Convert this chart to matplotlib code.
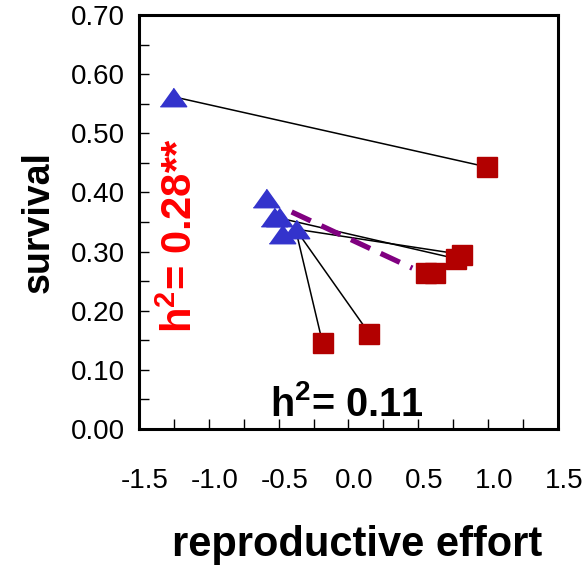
import matplotlib
matplotlib.use("Agg")
import matplotlib.pyplot as plt
from matplotlib.ticker import MultipleLocator
from matplotlib.transforms import ScaledTranslation

# parent values (triangles) and offspring values (squares)
tri_x = [-1.257, -0.593, -0.536, -0.500, -0.479, -0.379]
tri_y = [0.562, 0.391, 0.359, 0.359, 0.330, 0.338]
sq_x = [0.993, 0.557, 0.621, 0.771, 0.814, -0.186, 0.150]
sq_y = [0.443, 0.264, 0.264, 0.288, 0.295, 0.146, 0.161]

# which triangle is joined to which square
links = [(0, 0), (2, 3), (5, 4), (5, 5), (5, 6)]

# dashed mean line
mean_x = [-0.407, 0.457]
mean_y = [0.367, 0.272]

xticks = [-1.5, -1.0, -0.5, 0.0, 0.5, 1.0, 1.5]
yticks = [0.0, 0.1, 0.2, 0.3, 0.4, 0.5, 0.6, 0.7]

plt.rcParams["font.family"] = ["Liberation Sans", "DejaVu Sans"]
plt.rcParams["mathtext.fontset"] = "custom"
plt.rcParams["mathtext.rm"] = "Liberation Sans"
plt.rcParams["mathtext.bf"] = "Liberation Sans:bold"

fig = plt.figure(figsize=(5.86, 5.65), dpi=100)
ax = fig.add_axes([0.2372, 0.2407, 0.715, 0.7327])

for ti, si in links:
    ax.plot([tri_x[ti], sq_x[si]], [tri_y[ti], sq_y[si]], color="black", lw=1.1, zorder=1)

ax.plot(mean_x, mean_y, color="#800080", lw=3.8, dashes=(4, 2.2), zorder=2)

tri_marker = [(-1, -0.7), (1, -0.7), (0, 0.7)]
ax.plot(sq_x, sq_y, ls="none", marker="s", ms=14.5, color="#B20000", mec="#B20000", zorder=3)
ax.plot(tri_x, tri_y, ls="none", marker=tri_marker, ms=19, color="#3333CC", mec="#3333CC", zorder=4)

ax.set_xlim(-1.5, 1.5)
ax.set_ylim(0.0, 0.7)
ax.set_xticks(xticks)
ax.set_yticks(yticks)
ax.set_xticklabels([f"{v:.1f}" for v in xticks])
ax.set_yticklabels([f"{v:.2f}" for v in yticks])
ax.xaxis.set_minor_locator(MultipleLocator(0.25))
ax.yaxis.set_minor_locator(MultipleLocator(0.05))
ax.tick_params(which="both", direction="in", length=7, width=1, color="black")
ax.tick_params(axis="x", which="major", pad=28, labelsize=20)
ax.tick_params(axis="y", which="major", pad=10, labelsize=20)

offset = ScaledTranslation(6 / 100, 0, fig.dpi_scale_trans)
for lab in ax.get_xticklabels():
    lab.set_transform(lab.get_transform() + offset)

for sp in ax.spines.values():
    sp.set_linewidth(2.2)

ax.set_xlabel("reproductive effort", fontsize=30, fontweight="bold")
ax.xaxis.set_label_coords(0.52, -0.232)
ax.set_ylabel("survival", fontsize=27, fontweight="bold", labelpad=10)

ax.text(0.1, 0.466, "h$^\\mathbf{2}$= 0.28**", transform=ax.transAxes, rotation=90,
        color="#FF0000", fontsize=30, fontweight="bold", ha="center", va="center")
ax.text(0.496, 0.058, "h$^\\mathbf{2}$= 0.11", transform=ax.transAxes,
        color="black", fontsize=28.5, fontweight="bold", ha="center", va="center")

fig.savefig("out.png", dpi=100)
